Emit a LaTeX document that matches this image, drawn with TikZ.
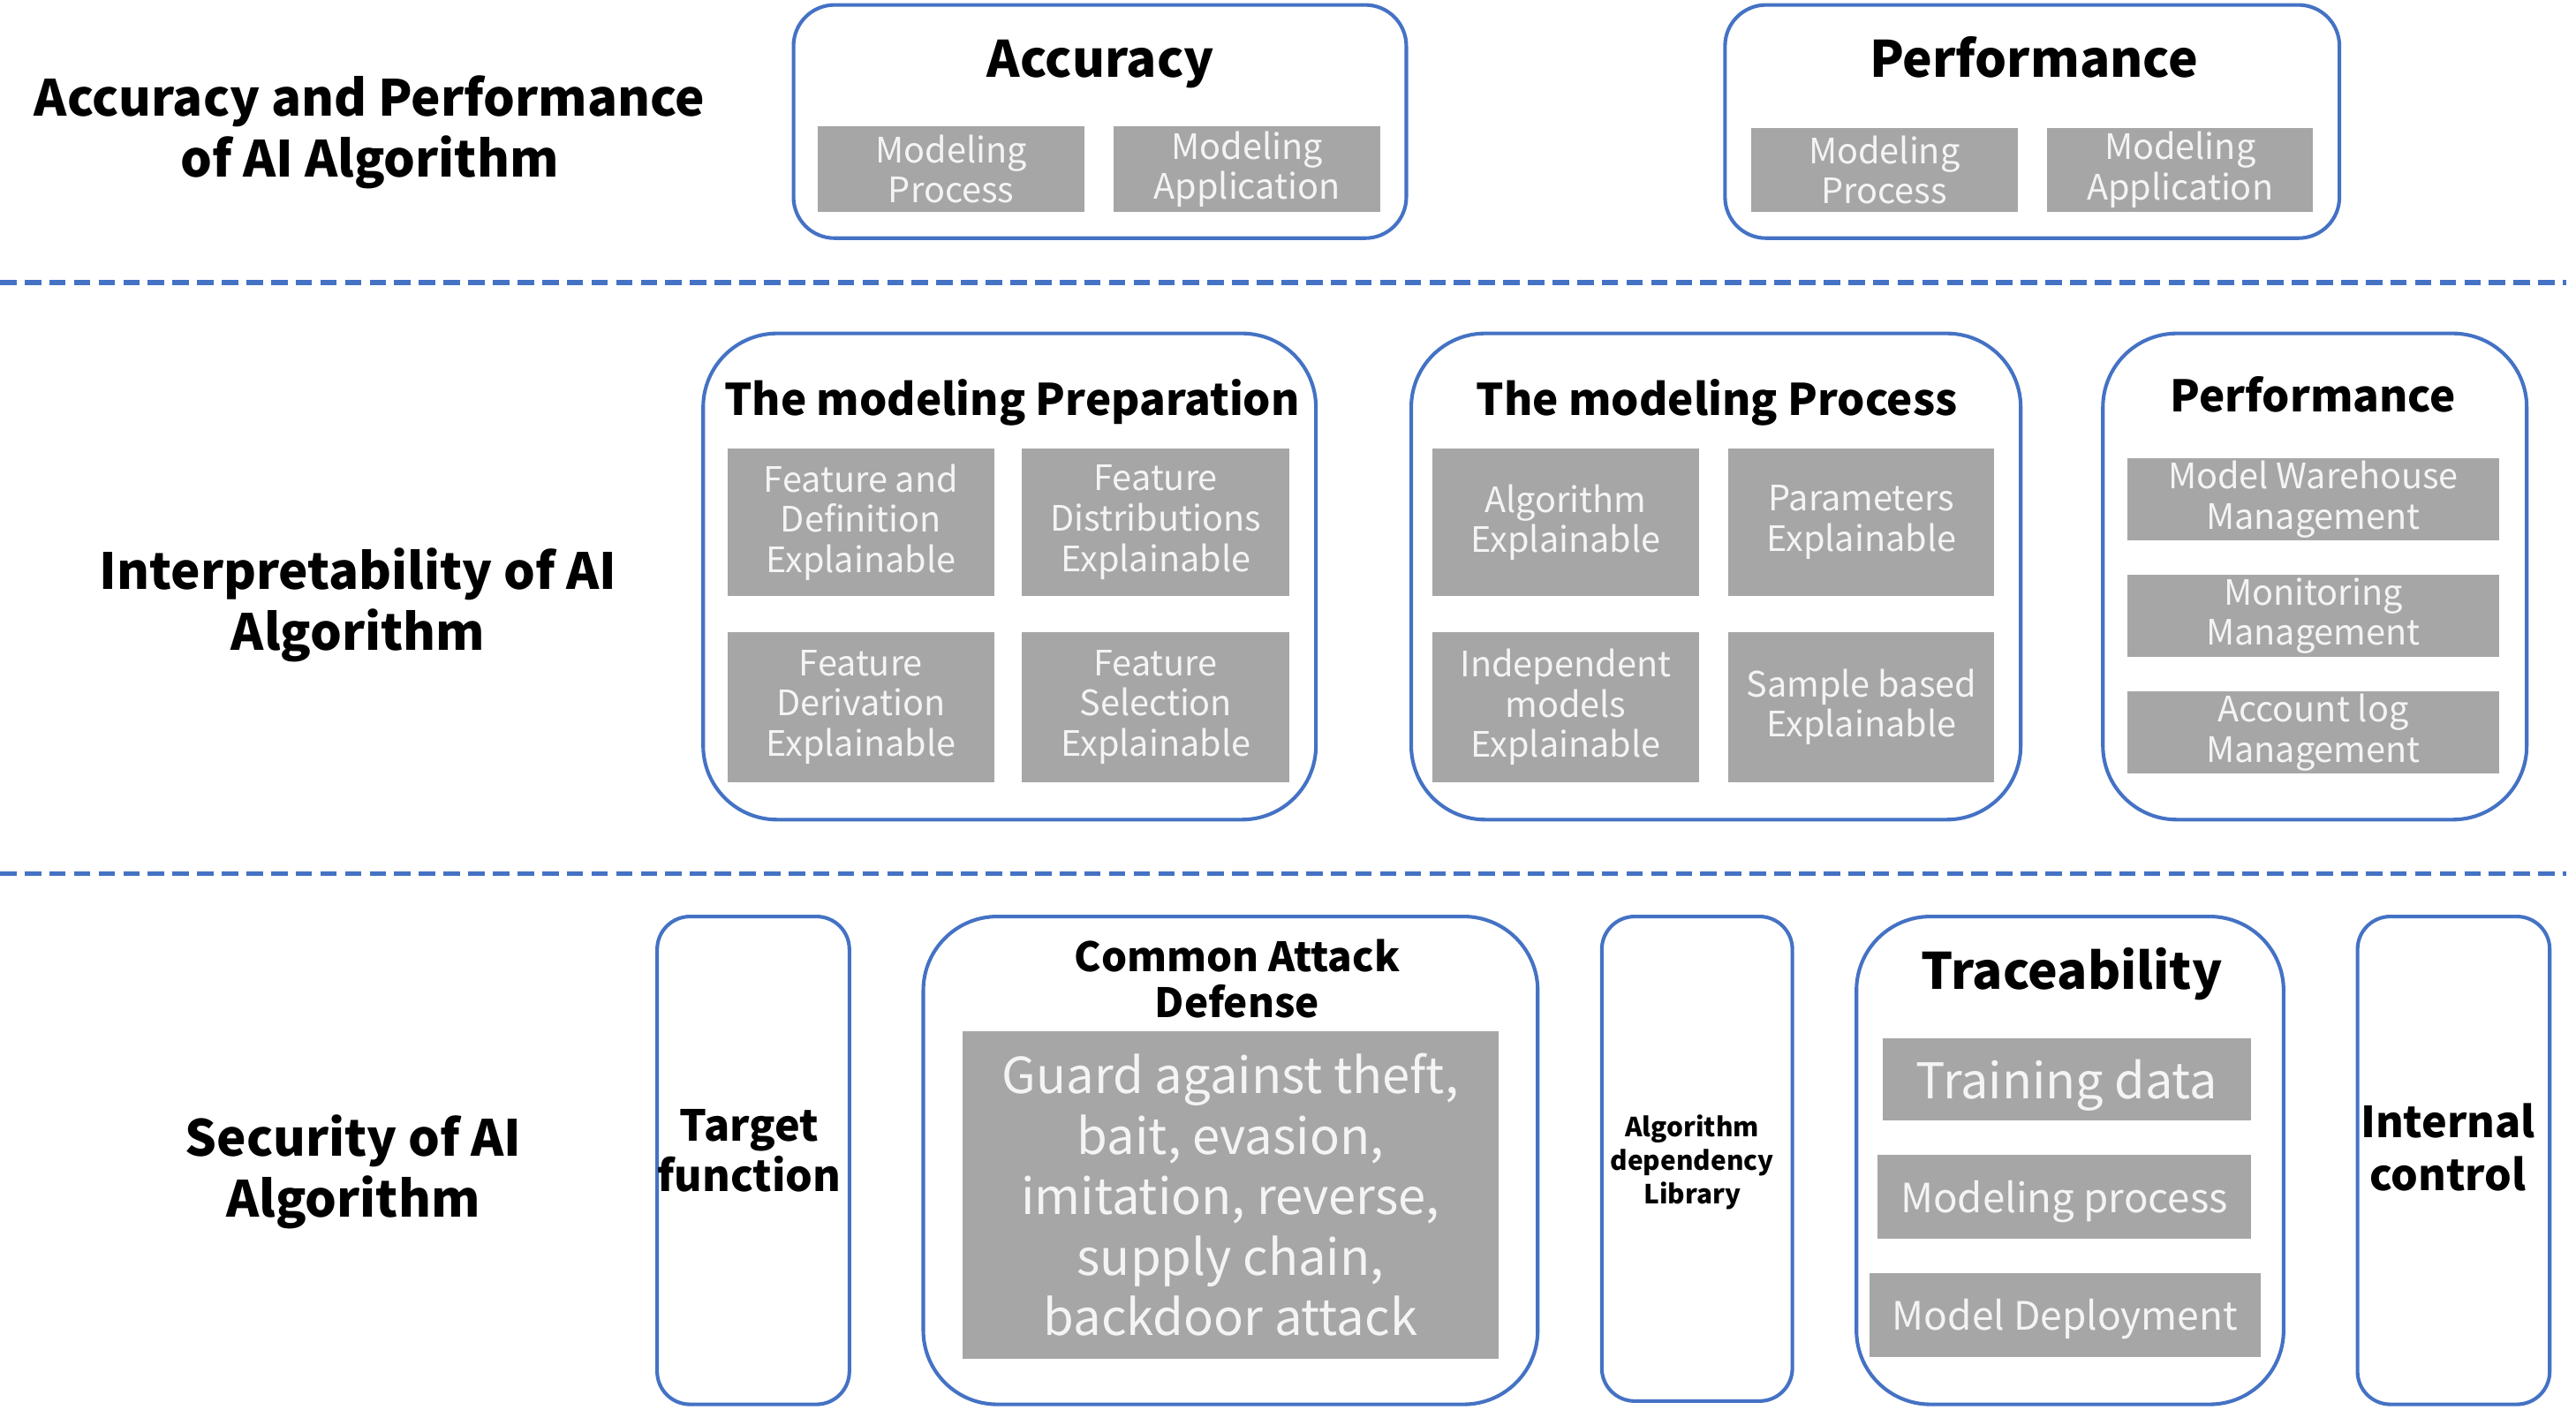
\documentclass[tikz,border=0pt]{standalone}
\usepackage{fontspec}
\setmainfont{Noto Sans CJK SC}
\definecolor{blueC}{HTML}{4472C4}
\definecolor{grayC}{HTML}{A6A6A6}
\definecolor{txtC}{HTML}{F4F4F4}
\tikzset{
  ob/.style={draw=blueC, line width=2.2pt, rounded corners=#1, inner sep=0pt},
  ob/.default=25pt,
  sect/.style={font=\fontsize{30.3}{37}\selectfont\bfseries, align=center, inner sep=0pt},
  ttl/.style={font=\fontsize{30.5}{38}\selectfont\bfseries, align=center, inner sep=0pt},
  mttl/.style={font=\fontsize{26.5}{32}\selectfont\bfseries, align=center, inner sep=0pt},
  gb/.style={fill=grayC, text=txtC, align=center, inner sep=0pt, font=\fontsize{21.3}{24.5}\selectfont},
  dline/.style={draw=blueC, line width=3pt, dash pattern=on 10pt off 5pt}
}
\begin{document}
\begin{tikzpicture}[x=1pt,y=-1pt]
\useasboundingbox (0,0) rectangle (1568,858.4);
% ---------- top row
\node[sect] (lab1) at (225,80.5) {Accuracy and Performance\\of AI Algorithm};
\node[ob=25pt, minimum width=373pt, minimum height=142pt] (acc) at (669.5,74) {};
\node[ttl] (accT) at (670,39) {Accuracy};
\node[gb, minimum width=162pt, minimum height=52pt] (accA) at (579,103) {Modeling\\Process};
\node[gb, minimum width=162pt, minimum height=52pt] (accB) at (759,103) {Modeling\\Application};
\node[ob=25pt, minimum width=374pt, minimum height=142pt] (perf) at (1237,74) {};
\node[ttl] (perfT) at (1238,35) {Performance};
\node[gb, minimum width=162pt, minimum height=51pt] (perfA) at (1147,103.5) {Modeling\\Process};
\node[gb, minimum width=162pt, minimum height=51pt] (perfB) at (1327,103.5) {Modeling\\Application};
% dashed separator 1
\coordinate (d1a) at (0,172);
\coordinate (d1b) at (1562,172);
\draw[dline] (d1a) -- (d1b);
% ---------- middle row
\node[sect] (lab2) at (218,368.5) {Interpretability of AI\\Algorithm};
\node[ob=45pt, minimum width=373pt, minimum height=296pt] (prep) at (614.5,351) {};
\node[mttl] (prepT) at (616,245) {The modeling Preparation};
\node[gb, minimum width=162pt, minimum height=90pt] (p1) at (524,318) {Feature and\\Definition\\Explainable};
\node[gb, minimum width=163pt, minimum height=90pt] (p2) at (703.5,318) {Feature\\Distributions\\Explainable};
\node[gb, minimum width=162pt, minimum height=91pt] (p3) at (524,430.5) {Feature\\Derivation\\Explainable};
\node[gb, minimum width=163pt, minimum height=91pt] (p4) at (703.5,430.5) {Feature\\Selection\\Explainable};
\node[ob=45pt, minimum width=371pt, minimum height=296pt] (proc) at (1044.5,351) {};
\node[mttl] (procT) at (1045,245) {The modeling Process};
\node[gb, minimum width=162pt, minimum height=90pt] (q1) at (953,318) {Algorithm\\Explainable};
\node[gb, minimum width=162pt, minimum height=90pt] (q2) at (1133,318) {Parameters\\Explainable};
\node[gb, minimum width=162pt, minimum height=91pt] (q3) at (953,430.5) {Independent\\models\\Explainable};
\node[gb, minimum width=162pt, minimum height=91pt] (q4) at (1133,430.5) {Sample based\\Explainable};
\node[ob=45pt, minimum width=258pt, minimum height=296pt] (perf2) at (1409,351) {};
\node[mttl] (perf2T) at (1408,240) {Performance};
\node[gb, minimum width=226pt, minimum height=50pt] (r1) at (1408,304) {Model Warehouse\\Management};
\node[gb, minimum width=226pt, minimum height=50pt] (r2) at (1408,375) {Monitoring\\Management};
\node[gb, minimum width=226pt, minimum height=50pt] (r3) at (1408,446) {Account log\\Management};
% dashed separator 2
\coordinate (d2a) at (0,532);
\coordinate (d2b) at (1562,532);
\draw[dline] (d2a) -- (d2b);
% ---------- bottom row
\node[sect] (lab3) at (215,713.5) {Security of AI\\Algorithm};
\node[ob=20pt, minimum width=117pt, minimum height=297pt] (tf) at (458.5,706.5) {};
\node[ttl, font=\fontsize{26}{31}\selectfont\bfseries] (tfT) at (456,700.5) {Target\\function};
\node[ob=45pt, minimum width=374pt, minimum height=297pt] (cad) at (749,706.5) {};
\node[ttl, font=\fontsize{24.6}{28}\selectfont\bfseries] (cadT) at (753,596) {Common Attack\\Defense};
\node[gb, minimum width=326pt, minimum height=199pt, font=\fontsize{30.2}{36.8}\selectfont] (cadG) at (749,727.5) {Guard against theft,\\bait, evasion,\\imitation, reverse,\\supply chain,\\backdoor attack};
\node[ob=20pt, minimum width=116pt, minimum height=295pt] (adl) at (1033,705.5) {};
\node[ttl, font=\fontsize{16}{20.5}\selectfont\bfseries] (adlT) at (1030,707.5) {Algorithm\\dependency\\Library};
\node[ob=45pt, minimum width=260pt, minimum height=297pt] (tr) at (1260,706.5) {};
\node[ttl] (trT) at (1261,593) {Traceability};
\node[gb, minimum width=224pt, minimum height=50pt, text depth=0pt, font=\fontsize{30}{34}\selectfont] (t1) at (1258,657) {Training data};
\node[gb, minimum width=227pt, minimum height=51pt, text depth=0pt, font=\fontsize{24.5}{30}\selectfont] (t2) at (1256.5,728.5) {Modeling process};
\node[gb, minimum width=238pt, minimum height=51pt, text depth=0pt, font=\fontsize{23.8}{30}\selectfont] (t3) at (1257,800.5) {Model Deployment};
\node[ob=20pt, minimum width=117pt, minimum height=297pt] (ic) at (1493.5,706.5) {};
\node[ttl, font=\fontsize{26}{32}\selectfont\bfseries] (icT) at (1490,698.5) {Internal\\control};
\end{tikzpicture}
\end{document}
